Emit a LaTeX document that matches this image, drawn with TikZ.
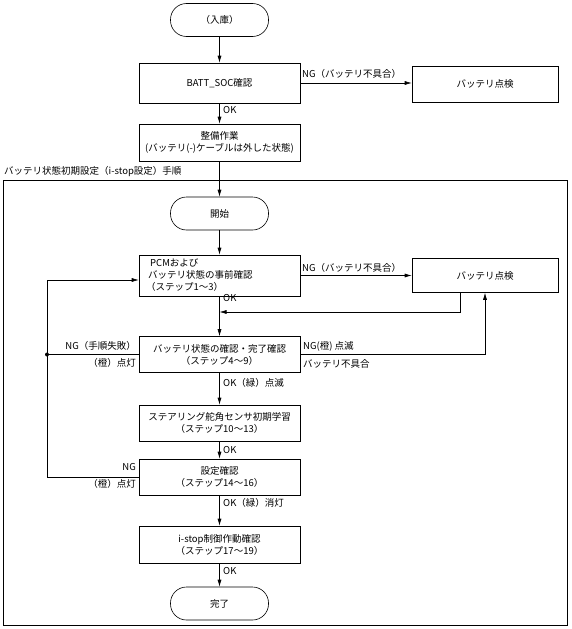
\documentclass[tikz,border=0pt]{standalone}
\usepackage{fontspec}
\setmainfont{Noto Sans CJK JP}
\usetikzlibrary{arrows.meta}
\begin{document}
\begin{tikzpicture}[x=1pt,y=-1pt,
  txt/.style={font=\fontsize{9.5}{12}\selectfont, inner sep=0pt},
  box/.style={draw, line width=0.6pt, txt, align=center, minimum width=161pt},
  term/.style={draw, line width=0.6pt, txt, rounded corners=16pt, minimum width=98pt, minimum height=33pt},
  arr/.style={-{Latex[length=7pt,width=4pt]}, line width=0.6pt},
  ln/.style={line width=0.6pt},
  lab/.style={txt}
]
\useasboundingbox (0,0) rectangle (571,629);
% frame
\draw[line width=1pt] (3,180) rectangle (567,625);
\node[lab, anchor=west] (flabel) at (4,172) {バッテリ状態初期設定（i-stop設定）手順};
% nodes
\node[term] (start) at (219.5,20) {（入庫）};
\node[box, minimum height=40pt] (soc) at (219.5,83) {BATT\_SOC確認};
\node[box, minimum width=146pt, minimum height=36pt] (bat1) at (485,84) {バッテリ点検};
\node[box, minimum height=37pt] (maint) at (219.5,142.5) {整備作業\\(バッテリ(-)ケーブルは外した状態)};
\node[term] (begin) at (219.5,213.5) {開始};
\node[box, minimum height=41pt] (pcm) at (219.5,275.5) {};
\node[lab, anchor=west, align=left] (pcmtxt) at (146,275.5) {\hspace{4pt}PCMおよび\\\hspace{2pt}バッテリ状態の事前確認\\（ステップ1～3）};
\node[box, minimum width=146pt, minimum height=34pt] (bat2) at (485,275.5) {バッテリ点検};
\node[box, minimum height=36pt] (chk) at (219.5,354.5) {バッテリ状態の確認・完了確認\\（ステップ4～9）};
\node[box, minimum height=36pt] (steer) at (219.5,423) {ステアリング舵角センサ初期学習\\（ステップ10～13）};
\node[box, minimum height=36pt] (conf) at (219.5,477) {設定確認\\（ステップ14～16）};
\node[box, minimum height=37pt] (istop) at (219.5,544.5) {i-stop制御作動確認\\（ステップ17～19）};
\node[term] (fin) at (219.5,603.5) {完了};
% coordinates
\coordinate (r1) at (460,312);
\coordinate (rr) at (485,354.5);
\coordinate (dot) at (47,354.5);
\coordinate (lb) at (47,477);
\coordinate (lt) at (47,280);
% connectors
\draw[arr] (start) -- (soc);
\draw[arr] (soc.east) -- (soc.east -| bat1.west);
\draw[arr] (soc) -- (maint);
\draw[arr] (maint) -- (begin);
\draw[arr] (begin) -- (pcm);
\draw[arr] (pcm.east) -- (pcm.east -| bat2.west);
\draw[arr] (pcm) -- (chk);
\draw[arr] (r1 |- bat2.south) -- (r1) -- (r1 -| pcm.south);
\draw[arr] (chk.east) -- (rr) -- (rr |- bat2.south);
\draw[ln] (chk.west) -- (dot);
\fill (dot) circle (2pt);
\draw[arr] (conf.west) -- (lb) -- (lt) -- (lt -| pcm.west);
\draw[arr] (chk) -- (steer);
\draw[arr] (steer) -- (conf);
\draw[arr] (conf) -- (istop);
\draw[arr] (istop) -- (fin);
% labels
\node[lab, anchor=west] (l1) at (302,74) {NG（バッテリ不具合）};
\node[lab, anchor=west] (l2) at (223,110) {OK};
\node[lab, anchor=west] (l3) at (302,268) {NG（バッテリ不具合）};
\node[lab, anchor=west] (l4) at (223,298) {OK};
\node[lab, anchor=west] (l5) at (303,346) {NG(橙) 点滅};
\node[lab, anchor=west] (l6) at (303,364) {バッテリ不具合};
\node[lab, anchor=east] (l7) at (136,346) {NG（手順失敗）};
\node[lab, anchor=east] (l8) at (136,363) {（橙）点灯};
\node[lab, anchor=west] (l9) at (223,383) {OK（緑）点滅};
\node[lab, anchor=west] (l10) at (223,450) {OK};
\node[lab, anchor=east] (l11) at (136,467) {NG};
\node[lab, anchor=east] (l12) at (136,484) {（橙）点灯};
\node[lab, anchor=west] (l13) at (223,503) {OK（緑）消灯};
\node[lab, anchor=west] (l14) at (223,571) {OK};
\end{tikzpicture}
\end{document}
